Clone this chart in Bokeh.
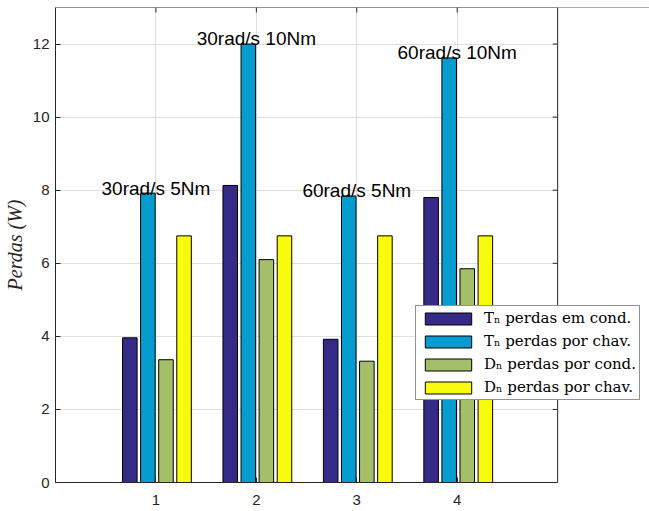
from bokeh.plotting import figure
from bokeh.models import (ColumnDataSource, Legend, LegendItem,
                          FixedTicker, BoxAnnotation, Span)
from bokeh.core.properties import value
from bokeh.transform import dodge
from bokeh.embed import file_html
from bokeh.resources import INLINE

groups = [1, 2, 3, 4]
t_cond = [3.96, 8.13, 3.92, 7.80]
t_chav = [7.92, 12.00, 7.84, 11.62]
d_cond = [3.36, 6.10, 3.32, 5.85]
d_chav = [6.75, 6.75, 6.75, 6.75]
series_labels = ["Tₙ perdas em cond.", "Tₙ perdas por chav.",
                 "Dₙ perdas por cond.", "Dₙ perdas por chav."]
annotations = ["30rad/s 5Nm", "30rad/s 10Nm", "60rad/s 5Nm", "60rad/s 10Nm"]
y_ticks = [0, 2, 4, 6, 8, 10, 12]
x_ticks = [1, 2, 3, 4]
x_lim = (0, 5)
y_lim = (0, 13)

colors = ["#352A87", "#079CCF", "#A5BE6A", "#F9FB0E"]
offsets = [-0.26, -0.08, 0.10, 0.28]
keys = ["t_cond", "t_chav", "d_cond", "d_chav"]

# layout (pixels)
W, H = 649, 511
LEFT, TOP, BOTTOM = 54, 7, 29
BOX_W = 503                      # width of the axes box
FRAME_W = W - LEFT               # frame extends under the legend
FRAME_H = H - TOP - BOTTOM
x_end = x_lim[1] * FRAME_W / BOX_W
TICK = 5
tick_dx = TICK * (x_lim[1] - x_lim[0]) / BOX_W
tick_dy = TICK * (y_lim[1] - y_lim[0]) / FRAME_H

src = ColumnDataSource(dict(x=groups, t_cond=t_cond, t_chav=t_chav,
                            d_cond=d_cond, d_chav=d_chav,
                            lab=annotations,
                            lab_y=[v + 0.14 for v in t_chav]))

p = figure(width=W, height=H, x_range=(x_lim[0], x_end), y_range=y_lim,
           output_backend="svg", toolbar_location=None,
           min_border_left=LEFT, min_border_right=0, min_border_top=TOP,
           min_border_bottom=BOTTOM)

AX = "#262626"
FONT = "Liberation Sans"
p.outline_line_color = None

p.xaxis.ticker = FixedTicker(ticks=x_ticks)
p.yaxis.ticker = FixedTicker(ticks=y_ticks)
p.xaxis.bounds = x_lim
for ax in [p.xaxis[0], p.yaxis[0]]:
    ax.axis_line_color = AX
    ax.major_tick_line_color = AX
    ax.major_tick_in = TICK
    ax.major_tick_out = 0
    ax.minor_tick_line_color = None
    ax.major_label_text_font = FONT
    ax.major_label_text_font_size = "15px"
    ax.major_label_text_color = AX
p.xaxis.major_label_standoff = 12
p.yaxis.major_label_standoff = 6
p.yaxis.axis_label = "Perdas (W)"
p.yaxis.axis_label_text_font = "Liberation Serif"
p.yaxis.axis_label_text_font_style = "italic"
p.yaxis.axis_label_text_font_size = "20px"
p.yaxis.axis_label_text_color = AX
p.yaxis.axis_label_standoff = 4

p.xgrid.grid_line_color = "#dfdfdf"
p.ygrid.grid_line_color = "#dfdfdf"
p.xgrid.ticker = FixedTicker(ticks=x_ticks)
p.ygrid.ticker = FixedTicker(ticks=y_ticks)

# top edge of the box, then blank the area right of the box (under legend)
p.add_layout(Span(location=y_lim[1], dimension="width", line_color=AX,
                  line_width=1, level="underlay"))
p.add_layout(BoxAnnotation(left=x_lim[1], fill_color="white", fill_alpha=1.0,
                           line_color=None, level="underlay"))
p.add_layout(Span(location=x_lim[1], dimension="height", line_color=AX,
                  line_width=1))

# inward ticks on the top and right edges of the box
p.segment(x0=x_ticks, y0=[y_lim[1]] * len(x_ticks), x1=x_ticks,
          y1=[y_lim[1] - tick_dy] * len(x_ticks), line_color=AX, line_width=1)
p.segment(x0=[x_lim[1]] * len(y_ticks), y0=y_ticks,
          x1=[x_lim[1] - tick_dx] * len(y_ticks), y1=y_ticks,
          line_color=AX, line_width=1)

renderers = []
for k, off, c in zip(keys, offsets, colors):
    r = p.vbar(x=dodge("x", off, range=p.x_range), top=k, width=0.145,
               bottom=0, source=src, fill_color=c, line_color="black",
               line_width=1)
    renderers.append(r)

p.text(x="x", y="lab_y", text="lab", source=src, text_align="center",
       text_baseline="alphabetic", text_font=value(FONT),
       text_font_size="19px", text_color="black")

legend = Legend(items=[LegendItem(label=l, renderers=[r])
                       for l, r in zip(series_labels, renderers)],
                location=(360, 82), padding=3, spacing=5,
                glyph_width=58, glyph_height=15, label_height=15,
                label_standoff=7, label_text_font="DejaVu Serif",
                label_text_font_size="15px", label_text_color="black",
                border_line_color=AX, border_line_width=1,
                background_fill_color="white", background_fill_alpha=1.0,
                margin=0)
p.add_layout(legend)

open("out.html", "w").write(file_html(p, INLINE))
